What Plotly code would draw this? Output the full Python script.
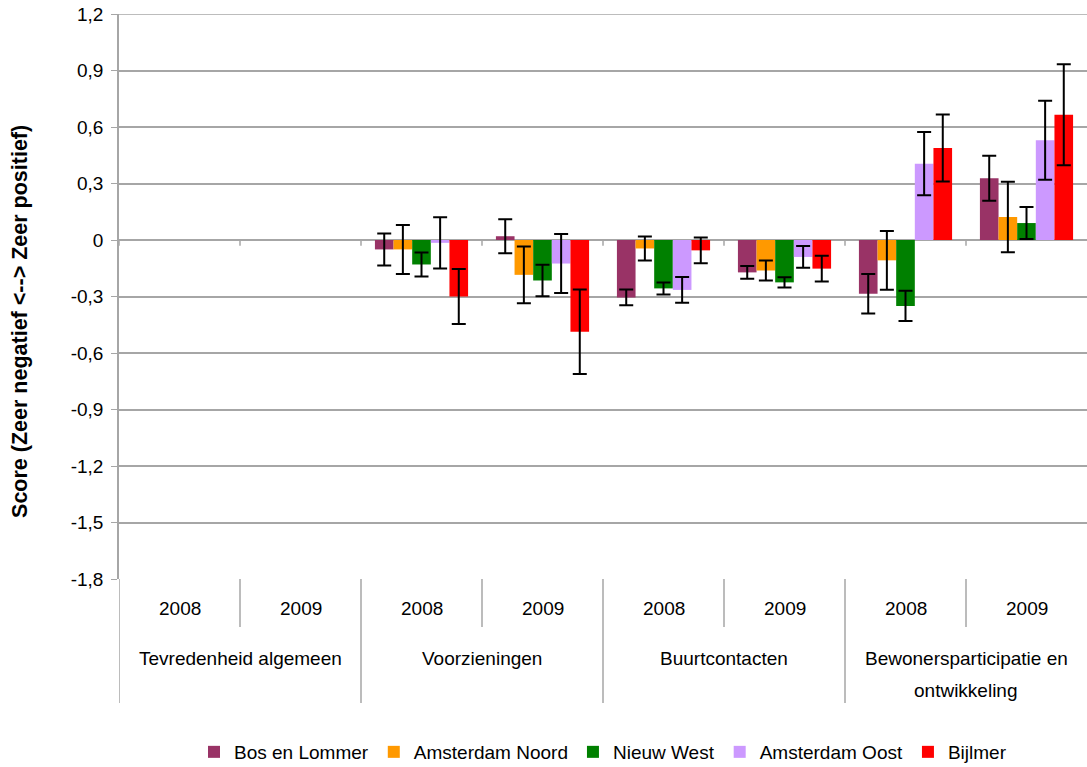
import plotly.graph_objects as go

# ---- data ----
groups = ["Tevredenheid algemeen", "Voorzieningen", "Buurtcontacten", "Bewonersparticipatie en ontwikkeling"]
years = ["2008", "2009"]
series = ["Bos en Lommer", "Amsterdam Noord", "Nieuw West", "Amsterdam Oost", "Bijlmer"]
colors = ["#993366", "#FF9900", "#008000", "#CC99FF", "#FF0000"]

bos_val = [None, None, -0.05, 0.02, -0.305, -0.172, -0.285, 0.328]
bos_err = [None, None, 0.085, 0.09, 0.042, 0.034, 0.105, 0.12]
noord_val = [None, None, -0.05, -0.185, -0.045, -0.162, -0.108, 0.122]
noord_err = [None, None, 0.13, 0.151, 0.064, 0.053, 0.156, 0.187]
west_val = [None, None, -0.13, -0.215, -0.257, -0.225, -0.35, 0.09]
west_err = [None, None, 0.064, 0.084, 0.032, 0.027, 0.08, 0.085]
oost_val = [None, None, -0.015, -0.125, -0.265, -0.09, 0.405, 0.53]
oost_err = [None, None, 0.136, 0.157, 0.068, 0.058, 0.168, 0.21]
bijlmer_val = [None, None, -0.30, -0.487, -0.055, -0.152, 0.488, 0.665]
bijlmer_err = [None, None, 0.146, 0.224, 0.068, 0.068, 0.178, 0.268]

values = [bos_val, noord_val, west_val, oost_val, bijlmer_val]
errors = [bos_err, noord_err, west_err, oost_err, bijlmer_err]

ytick_vals = [1.2, 0.9, 0.6, 0.3, 0, -0.3, -0.6, -0.9, -1.2, -1.5, -1.8]
ytick_text = ["1,2", "0,9", "0,6", "0,3", "0", "-0,3", "-0,6", "-0,9", "-1,2", "-1,5", "-1,8"]
y_title = "Score (Zeer negatief <--> Zeer positief)"

# ---- figure ----
n_cat = len(groups) * len(years)
xpos = [i + 0.5 for i in range(n_cat)]
FONT = "Liberation Sans, Arial, sans-serif"
Y_MIN, Y_MAX = -1.8, 1.2

fig = go.Figure()
for name, col, v, e in zip(series, colors, values, errors):
    fig.add_trace(go.Bar(
        x=xpos, y=v, name=name, marker_color=col, marker_line_width=0,
        error_y=dict(type="data", array=[x if x is not None else 0 for x in e],
                     visible=True, color="black", thickness=2, width=7),
    ))

W, H = 1087, 767
L, R, T = 119, 0, 14
plot_h = 565
B = H - T - plot_h
plot_w = W - L - R
x_max = n_cat

def py(px):
    """pixel offset below plot bottom -> paper y"""
    return -px / plot_h

shapes = []
line_col = "#A6A6A6"
shapes.append(dict(type="line", xref="paper", yref="y", x0=0, x1=1, y0=Y_MAX, y1=Y_MAX,
                   line=dict(color=line_col, width=1.5), layer="below"))
for i in range(n_cat):
    depth = 124 if i % 2 == 0 else 48
    shapes.append(dict(type="line", xref="x", yref="paper", x0=i, x1=i,
                       y0=0, y1=py(depth), line=dict(color=line_col, width=1.5)))
for i in range(n_cat):
    shapes.append(dict(type="line", xref="x", yref="y", x0=i, x1=i,
                       y0=0, y1=-0.03, line=dict(color=line_col, width=1.5)))

annotations = []
for i in range(n_cat):
    annotations.append(dict(x=i + 0.5, xref="x", y=py(29), yref="paper",
                            text=years[i % 2], showarrow=False, yanchor="middle",
                            font=dict(size=19, color="black", family=FONT)))
for g, name in enumerate(groups):
    cx = 2 * g + 1
    if name.startswith("Bewoners"):
        lines = ["Bewonersparticipatie en", "ontwikkeling"]
    else:
        lines = [name]
    for k, ln in enumerate(lines):
        annotations.append(dict(x=cx, xref="x", y=py(79 + 32 * k), yref="paper",
                                text=ln, showarrow=False, yanchor="middle",
                                font=dict(size=19, color="black", family=FONT)))
annotations.append(dict(x=(20 - L) / plot_w, xref="paper", y=0.455, yref="paper",
                        text="<b>" + y_title + "</b>", textangle=-90, showarrow=False,
                        xanchor="center", yanchor="middle",
                        font=dict(size=21.5, color="black", family=FONT)))

fig.update_layout(
    width=W, height=H,
    margin=dict(l=L, r=R, t=T, b=B, autoexpand=False),
    paper_bgcolor="white", plot_bgcolor="white",
    barmode="group", bargap=0.23, bargroupgap=0,
    font=dict(family=FONT, size=19, color="black"),
    showlegend=True,
    legend=dict(orientation="h", x=0.5, xanchor="center", xref="paper",
                y=py(173), yanchor="middle", font=dict(size=19),
                itemwidth=30, tracegroupgap=0),
    shapes=shapes, annotations=annotations,
    xaxis=dict(range=[0, x_max], showticklabels=False, showgrid=False,
               zeroline=False, showline=False, ticks="", automargin=False),
    yaxis=dict(range=[Y_MIN, Y_MAX], tickvals=ytick_vals, ticktext=ytick_text,
               showgrid=True, gridcolor=line_col, gridwidth=1.5,
               zeroline=True, zerolinecolor=line_col, zerolinewidth=1.5,
               showline=True, linecolor=line_col, linewidth=1.5,
               ticks="outside", ticklen=6, tickcolor=line_col,
               tickfont=dict(size=19), ticklabelstandoff=4, automargin=False,
               ticklabeloverflow="allow"),
)

fig.write_html("out.html",
               config={"displayModeBar": False},
               post_script="document.body.style.margin='0';document.body.style.overflow='hidden';")
